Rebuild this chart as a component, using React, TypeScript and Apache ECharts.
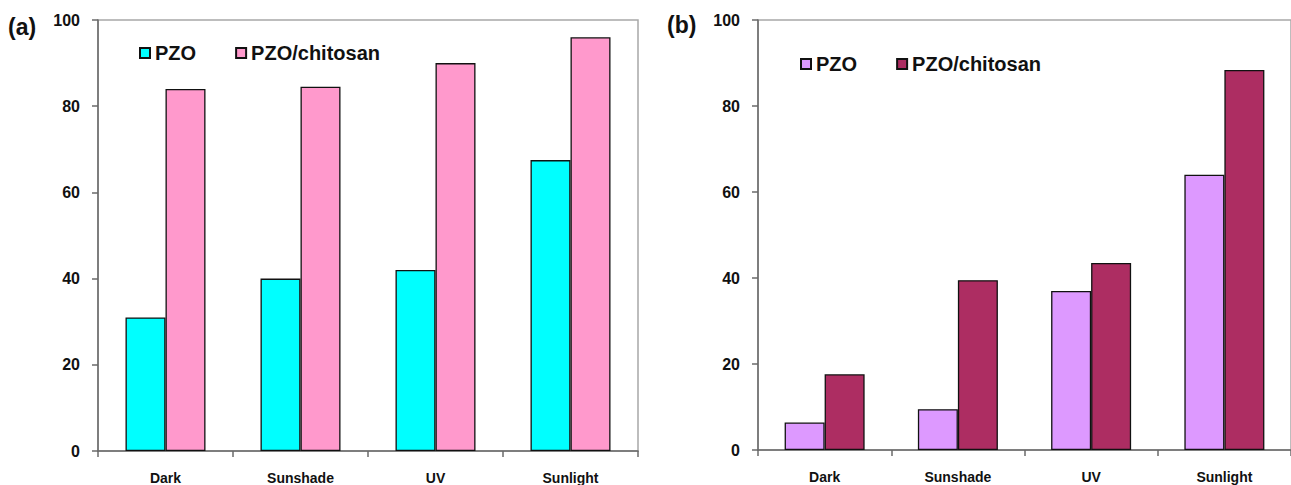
import React, { useEffect, useRef } from "react";
import * as echarts from "echarts";

const categories = ["Dark", "Sunshade", "UV", "Sunlight"];
const seriesNames = ["PZO", "PZO/chitosan"];
const panelAPZO = [31, 40, 42, 67.5];
const panelAChitosan = [84, 84.5, 90, 96];
const panelBPZO = [6.4, 9.5, 37, 64];
const panelBChitosan = [17.6, 39.5, 43.5, 88.4];
const yTicks = { min: 0, max: 100, interval: 20 };
const panelLabels = ["(a)", "(b)"];

const FONT = "Liberation Sans";

export default function App() {
  const ref = useRef<HTMLDivElement>(null);
  useEffect(() => {
    if (!ref.current) return;
    const chart = echarts.init(ref.current, null, { renderer: "svg" });
    const grids = [
      { left: 98, top: 20, width: 540, height: 432 },
      { left: 758, top: 20, width: 541, height: 430 },
    ];
    const xAxes = grids.map((_, i) => ({
      type: "category",
      gridIndex: i,
      data: categories,
      boundaryGap: true,
      axisLine: { lineStyle: { color: "#6a6a6a", width: 1.5 } },
      axisTick: { show: true, alignWithLabel: false, length: 6, lineStyle: { color: "#6a6a6a", width: 1.5 } },
      axisLabel: { color: "#111", fontFamily: FONT, fontWeight: "bold", fontSize: 14, margin: 20 },
      splitLine: { show: false },
    }));
    const yAxes = grids.map((_, i) => ({
      type: "value",
      gridIndex: i,
      min: yTicks.min,
      max: yTicks.max,
      interval: yTicks.interval,
      axisLine: { show: true, lineStyle: { color: "#6a6a6a", width: 1.5 } },
      axisTick: { show: true, length: 6, lineStyle: { color: "#6a6a6a", width: 1.5 } },
      axisLabel: { color: "#111", fontFamily: FONT, fontWeight: "bold", fontSize: 16, margin: 18 },
      splitLine: { show: false },
    }));
    const mk = (name: string, data: number[], idx: number, color: string) => ({
      type: "bar",
      name,
      xAxisIndex: idx,
      yAxisIndex: idx,
      data,
      barWidth: 40,
      barGap: "0%",
      itemStyle: { color, borderColor: "#111", borderWidth: 1.3 },
    });
    const bSuffix = " (b)";
    const legendCommon = {
      orient: "horizontal",
      itemWidth: 10,
      itemHeight: 10,
      itemGap: 39,
      icon: "rect",
      textStyle: { color: "#111", fontFamily: FONT, fontWeight: "bold", fontSize: 20 },
      formatter: (n: string) => n.replace(bSuffix, ""),
      selectedMode: false,
    };
    chart.setOption({
      animation: false,
      backgroundColor: "#fff",
      grid: grids.map((g) => ({ ...g, show: true, borderColor: "#a8a8a8", borderWidth: 1.5, backgroundColor: "transparent" })),
      xAxis: xAxes,
      yAxis: yAxes,
      legend: [
        { ...legendCommon, left: 134, top: 38, data: seriesNames },
        { ...legendCommon, left: 795, top: 49, data: seriesNames.map((s) => s + bSuffix) },
      ],
      series: [
        mk(seriesNames[0], panelAPZO, 0, "#00FFFF"),
        mk(seriesNames[1], panelAChitosan, 0, "#FF99CC"),
        mk(seriesNames[0] + bSuffix, panelBPZO, 1, "#DD99FF"),
        mk(seriesNames[1] + bSuffix, panelBChitosan, 1, "#AD2D62"),
      ],
      graphic: [
        { type: "text", left: 8, top: 15, style: { text: panelLabels[0], fontFamily: FONT, fontWeight: "bold", fontSize: 23, fill: "#111" } },
        { type: "text", left: 667, top: 13, style: { text: panelLabels[1], fontFamily: FONT, fontWeight: "bold", fontSize: 23, fill: "#111" } },
      ],
    });
    return () => chart.dispose();
  }, []);
  return <div ref={ref} style={{ position: "fixed", left: 0, top: 0, width: 1291, height: 485 }} />;
}
